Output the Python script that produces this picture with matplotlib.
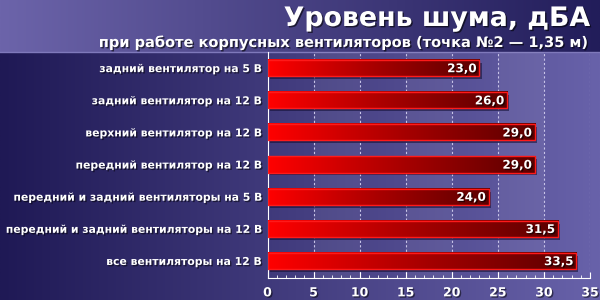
import numpy as np
import matplotlib
matplotlib.use('Agg')
import matplotlib.pyplot as plt
import matplotlib.patheffects as pe
from matplotlib.colors import LinearSegmentedColormap
from matplotlib.patches import Rectangle

# Данные
labels = [
    'задний вентилятор на 5 В',
    'задний вентилятор на 12 В',
    'верхний вентилятор на 12 В',
    'передний вентилятор на 12 В',
    'передний и задний вентиляторы на 5 В',
    'передний и задний вентиляторы на 12 В',
    'все вентиляторы на 12 В',
]
values = [23.0, 26.0, 29.0, 29.0, 24.0, 31.5, 33.5]
xticks = [0, 5, 10, 15, 20, 25, 30, 35]

title = 'Уровень шума, дБА'
subtitle = 'при работе корпусных вентиляторов (точка №2 — 1,35 м)'

plt.rcParams['font.family'] = ['DejaVu Sans']

fig = plt.figure(figsize=(6, 3), dpi=100)

# фон: градиенты
bg = fig.add_axes([0, 0, 1, 1], zorder=-10)
bg.set_xlim(0, 1)
bg.set_ylim(0, 1)
bg.axis('off')
grad = np.linspace(0, 1, 256).reshape(1, -1)
head_cmap = LinearSegmentedColormap.from_list('head', ['#6c64aa', '#221d5a'])
body_cmap = LinearSegmentedColormap.from_list('body', ['#1f1955', '#6862aa'])
split = 1 - 52 / 300
bg.imshow(grad, extent=(0, 1, split, 1), cmap=head_cmap, aspect='auto')
bg.imshow(grad, extent=(0, 1, 0, split), cmap=body_cmap, aspect='auto')
bg.axhline(split, color='#7f79bb', lw=1)

shadow = [pe.SimplePatchShadow(offset=(1, -1), shadow_rgbFace='black', alpha=0.6), pe.Normal()]
fig.text(0.983, 1 - 6 / 300, title, ha='right', va='top', color='white',
         fontsize=19.3, fontweight='bold', path_effects=shadow)
fig.text(0.983, 1 - 47 / 300, subtitle, ha='right', va='baseline', color='white',
         fontsize=10.5, fontweight='bold', path_effects=shadow)

ax = fig.add_axes([267.5 / 600, 22 / 300, (590 - 267.5) / 600, (278 - 52) / 300])
ax.patch.set_alpha(0)

# полосы фона
for i, x0 in enumerate(xticks[:-1]):
    if i % 2 == 1:
        ax.axvspan(x0, x0 + 5, color='white', alpha=0.06, lw=0, zorder=0)
for x in xticks[1:]:
    ax.axvline(x, color='#c8c4e8', lw=0.8, ls=(0, (2, 2)), zorder=1)

bar_cmap = LinearSegmentedColormap.from_list('bar', ['#ff0000', '#a80000', '#5a0000'])
h = 0.5
for i, v in enumerate(values):
    y = i
    ax.add_patch(Rectangle((0.25, y - h / 2 + 0.09), v, h, color='#0f0c30',
                           alpha=0.55, lw=0, zorder=2))
    ax.imshow(grad, extent=(0, v, y + h / 2, y - h / 2), cmap=bar_cmap,
              aspect='auto', zorder=3)
    ax.add_patch(Rectangle((0, y - h / 2), v, h, fill=False, ec='#ff1a1a',
                           lw=1, zorder=4))
    ax.text(v - 0.3, y + 0.02, f'{v:.1f}'.replace('.', ','), ha='right',
            va='center', color='white', fontsize=8.6, fontweight='bold',
            zorder=5, path_effects=shadow)

ax.set_aspect('auto')
ax.set_xlim(0, 35)
ax.set_ylim(6.53, -0.5)

ax.set_yticks(range(len(labels)))
ax.set_yticklabels(labels)
ax.set_xticks(xticks)
ax.set_xticks(np.arange(0, 36, 1), minor=True)
ax.tick_params(axis='y', length=0, pad=4, colors='white', labelsize=7.8)
ax.tick_params(axis='x', which='major', length=4, direction='in', colors='white',
               labelsize=9, pad=6)
ax.tick_params(axis='x', which='minor', length=2, direction='in', colors='white')
for lbl in ax.get_yticklabels() + ax.get_xticklabels():
    lbl.set_fontweight('bold')
    lbl.set_path_effects([pe.SimplePatchShadow(offset=(1, -1), shadow_rgbFace='black', alpha=0.5),
                          pe.Normal()])

for s in ['top', 'right']:
    ax.spines[s].set_visible(False)
ax.spines['left'].set_color('white')
ax.spines['bottom'].set_color('white')

fig.savefig('out.png', dpi=100)
